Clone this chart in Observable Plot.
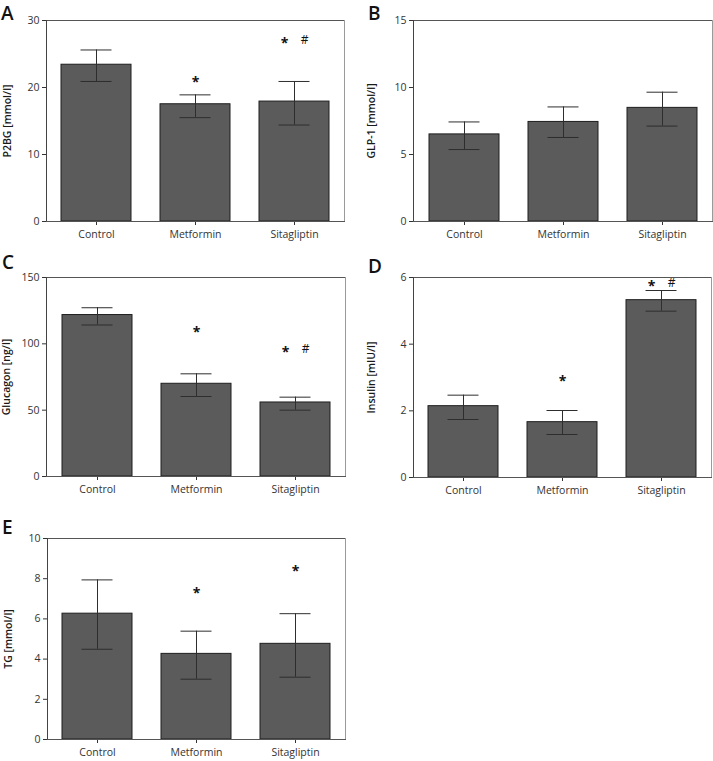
<!DOCTYPE html>
<html><head><meta charset="utf-8">
<script src="https://cdn.jsdelivr.net/npm/d3@7"></script>
<script src="https://cdn.jsdelivr.net/npm/@observablehq/plot@0.6"></script>
<style>
body{margin:0;background:#fff;font-family:"Open Sans",sans-serif;}
#root{position:relative;width:713px;height:761px;overflow:hidden;background:#fff}
.panel{position:absolute}
.letter{position:absolute;font-family:"Open Sans",sans-serif;font-size:19px;font-weight:600;color:#111;line-height:normal}
</style></head><body><div id="root"></div>
<script>
// ---- data ----
const groups = ["Control", "Metformin", "Sitagliptin"];

const p2bgMean = [23.4, 17.5, 17.9];
const p2bgLow  = [20.9, 15.5, 14.4];
const p2bgHigh = [25.6, 18.9, 20.9];
const p2bgSig  = ["", "*", "* #"];
const p2bgSigY = [null, 21.2, 27.0];

const glpMean = [6.5, 7.43, 8.48];
const glpLow  = [5.37, 6.27, 7.12];
const glpHigh = [7.43, 8.55, 9.65];
const glpSig  = ["", "", ""];
const glpSigY = [null, null, null];

const glucMean = [121.7, 69.9, 55.8];
const glucLow  = [114.2, 60.3, 50.0];
const glucHigh = [127.2, 77.4, 59.8];
const glucSig  = ["", "*", "* #"];
const glucSigY = [null, 111, 95.9];

const insMean = [2.14, 1.66, 5.32];
const insLow  = [1.74, 1.29, 4.99];
const insHigh = [2.47, 2.01, 5.61];
const insSig  = ["", "*", "* #"];
const insSigY = [null, 2.97, 5.82];

const tgMean = [6.26, 4.26, 4.76];
const tgLow  = [4.49, 3.0, 3.1];
const tgHigh = [7.94, 5.39, 6.26];
const tgSig  = ["", "*", "*"];
const tgSigY = [null, 7.42, 8.53];

const panelLetters = ["A", "B", "C", "D", "E"];
const yLabels = ["P2BG [mmol/l]", "GLP-1 [mmol/l]", "Glucagon [ng/l]", "Insulin [mIU/l]", "TG [mmol/l]"];
const yMax = [30, 15, 150, 6, 10];
const yTicks = [[0,10,20,30],[0,5,10,15],[0,50,100,150],[0,2,4,6],[0,2,4,6,8,10]];

// ---- layout (positions/sizes) ----
const layout = [
  {left:0,   top:0,   w:356, h:255, ml:46, mr:12, mt:20, mb:34, lo:43, lx:1,   ly:0},
  {left:356, top:0,   w:357, h:255, ml:57, mr:1,  mt:20, mb:34, lo:46, lx:368, ly:0},
  {left:0,   top:255, w:356, h:250, ml:46, mr:11, mt:22, mb:29, lo:44, lx:2,   ly:249},
  {left:356, top:255, w:357, h:250, ml:57, mr:2,  mt:22, mb:28, lo:46, lx:368, ly:253},
  {left:0,   top:505, w:356, h:256, ml:47, mr:11, mt:33, mb:22, lo:43, lx:2,   ly:514}
];
const padInner = 0.295;

const series = [
  [p2bgMean, p2bgLow, p2bgHigh, p2bgSig, p2bgSigY],
  [glpMean, glpLow, glpHigh, glpSig, glpSigY],
  [glucMean, glucLow, glucHigh, glucSig, glucSigY],
  [insMean, insLow, insHigh, insSig, insSigY],
  [tgMean, tgLow, tgHigh, tgSig, tgSigY]
];

const root = document.getElementById("root");

series.forEach(([mean, low, high, sig, sigY], k) => {
  const L = layout[k];
  const data = groups.map((g, i) => ({group: g, mean: mean[i], low: low[i], high: high[i]}));
  const ann = groups.map((g, i) => ({group: g, y: sigY[i], s: sig[i]}));
  const starAlone = ann.filter(d => d.s === "*");
  const starPair = ann.filter(d => d.s.includes("*") && d.s.includes("#"));
  const hashes = ann.filter(d => d.s.includes("#"));

  const chart = Plot.plot({
    width: L.w, height: L.h,
    marginLeft: L.ml, marginRight: L.mr, marginTop: L.mt, marginBottom: L.mb,
    style: {fontFamily: "'Open Sans', sans-serif", fontSize: "10.5px", color: "#333", background: "transparent", overflow: "visible"},
    x: {domain: groups, paddingInner: padInner, paddingOuter: padInner / 2, label: null, tickSize: 4, tickPadding: 5},
    y: {domain: [0, yMax[k]], ticks: yTicks[k], tickFormat: d => String(d), label: yLabels[k], labelAnchor: "center", labelArrow: "none", labelOffset: L.lo, tickSize: 4, tickPadding: 3},
    marks: [
      Plot.barY(data, {x: "group", y: "mean", fill: "#5b5b5b", stroke: "#1e1e1e", strokeWidth: 1}),
      Plot.ruleX(data, {x: "group", y1: "low", y2: "high", stroke: "#2e2e2e", strokeWidth: 1}),
      Plot.tickY(data, {x: "group", y: "low", stroke: "#2e2e2e", strokeWidth: 1, insetLeft: 19.5, insetRight: 19.5}),
      Plot.tickY(data, {x: "group", y: "high", stroke: "#2e2e2e", strokeWidth: 1, insetLeft: 19.5, insetRight: 19.5}),
      Plot.frame({anchor: "top", stroke: "#555"}),
      Plot.frame({anchor: "right", stroke: "#9a9a9a"}),
      Plot.frame({anchor: "left", stroke: "#444"}),
      Plot.frame({anchor: "bottom", stroke: "#555"}),
      Plot.text(starAlone, {x: "group", y: "y", text: () => "*", fontSize: 14, fontWeight: "bold", fill: "#111", dy: 3}),
      Plot.text(starPair, {x: "group", y: "y", text: () => "*", fontSize: 14, fontWeight: "bold", fill: "#111", dy: 3, dx: -10}),
      Plot.text(hashes, {x: "group", y: "y", text: () => "#", fontSize: 12, fill: "#111", dx: 10})
    ]
  });

  const div = document.createElement("div");
  div.className = "panel";
  div.style.left = L.left + "px";
  div.style.top = L.top + "px";
  div.appendChild(chart);
  root.appendChild(div);

  const yl = d3.select(chart).select("g[aria-label='y-axis label'] text");
  yl.attr("font-weight", "600").attr("font-size", "10.5px").attr("fill", "#1a1a1a");

  const letter = document.createElement("div");
  letter.className = "letter";
  letter.textContent = panelLetters[k];
  letter.style.left = L.lx + "px";
  letter.style.top = L.ly + "px";
  root.appendChild(letter);
});
</script>
</body></html>
